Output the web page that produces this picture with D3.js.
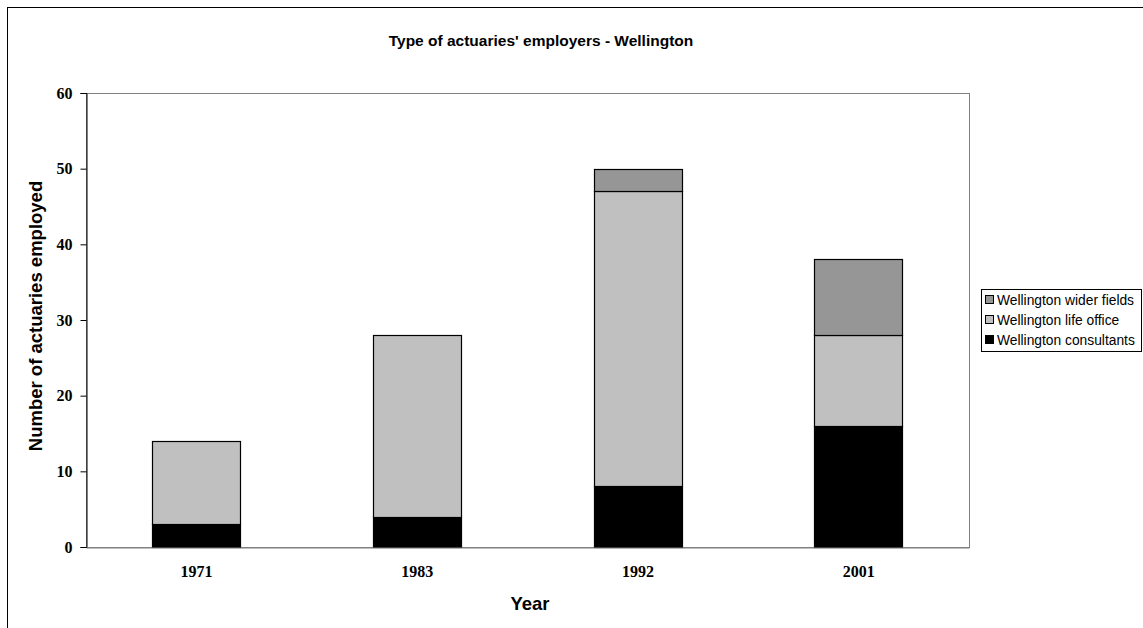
<!DOCTYPE html>
<html>
<head>
<meta charset="utf-8">
<script src="https://cdn.jsdelivr.net/npm/d3@7"></script>
<style>
  html, body { margin: 0; padding: 0; background: #fff; }
  svg { display: block; }
</style>
</head>
<body>
<svg id="chart" width="1143" height="628"></svg>
<script>
// Census years and employer breakdown for Wellington actuaries
const years = ["1971", "1983", "1992", "2001"];
const consultants = [3, 4, 8, 16];
const lifeOffice = [11, 24, 39, 12];
const widerFields = [0, 0, 3, 10];
const seriesNames = ["Wellington consultants", "Wellington life office", "Wellington wider fields"];
const seriesColors = ["#000000", "#c0c0c0", "#969696"];
const yTicks = [0, 10, 20, 30, 40, 50, 60];

const svg = d3.select("#chart");
const sans = "'Liberation Sans', Arial, sans-serif";
const serif = "'Liberation Serif', 'Times New Roman', serif";

// Outer chart frame (continues past the right and bottom edges)
svg.append("rect")
  .attr("x", 7.5).attr("y", 7.5)
  .attr("width", 1200).attr("height", 700)
  .attr("fill", "none").attr("stroke", "#000").attr("stroke-width", 1);

const plot = { left: 86, top: 93, right: 969, bottom: 547 };

const x = d3.scaleBand()
  .domain(years)
  .range([plot.left, plot.right])
  .paddingInner(0.6)
  .paddingOuter(0.3);

const y = d3.scaleLinear()
  .domain([0, 60])
  .range([plot.bottom, plot.top]);

// Plot-area frame
svg.append("rect")
  .attr("x", plot.left + 0.5).attr("y", plot.top + 0.5)
  .attr("width", plot.right - plot.left).attr("height", plot.bottom - plot.top)
  .attr("fill", "#fff").attr("stroke", "#808080").attr("stroke-width", 1);

// Stack the series
const rows = years.map((yr, i) => ({
  year: yr,
  c: consultants[i],
  l: lifeOffice[i],
  w: widerFields[i]
}));
const layers = d3.stack().keys(["c", "l", "w"])(rows);

const g = svg.append("g");
layers.forEach((layer, k) => {
  g.selectAll(null)
    .data(layer.filter(d => d[1] - d[0] > 0))
    .enter().append("rect")
    .attr("x", d => Math.round(x(d.data.year)) + 0.5)
    .attr("y", d => Math.round(y(d[1])) + 0.5)
    .attr("width", Math.round(x.bandwidth()))
    .attr("height", d => Math.round(y(d[0])) - Math.round(y(d[1])))
    .attr("fill", seriesColors[k])
    .attr("stroke", "#000")
    .attr("stroke-width", 1.2);
});

// Y axis
const yAxis = d3.axisLeft(y).tickValues(yTicks).tickSize(6).tickPadding(8);
const ya = svg.append("g")
  .attr("transform", `translate(${plot.left + 0.5},0)`)
  .call(yAxis);
ya.select(".domain").attr("stroke", "#000");
ya.selectAll(".tick line").attr("stroke", "#000");
ya.selectAll(".tick text")
  .attr("font-family", serif)
  .attr("font-weight", "bold").attr("font-size", 16).attr("fill", "#000");

// X axis
const xAxis = d3.axisBottom(x).tickSize(0).tickPadding(18);
const xa = svg.append("g")
  .attr("transform", `translate(0,${plot.bottom + 0.5})`)
  .call(xAxis);
xa.select(".domain").attr("stroke", "#808080");
xa.selectAll(".tick text")
  .attr("font-family", serif)
  .attr("font-weight", "bold").attr("font-size", 16).attr("fill", "#000");

// Titles
svg.append("text")
  .attr("x", 541).attr("y", 46)
  .attr("text-anchor", "middle")
  .attr("font-family", sans)
  .attr("font-weight", "bold").attr("font-size", 15.5)
  .text("Type of actuaries' employers - Wellington");

svg.append("text")
  .attr("x", 530).attr("y", 610)
  .attr("text-anchor", "middle")
  .attr("font-family", sans)
  .attr("font-weight", "bold").attr("font-size", 18.5)
  .text("Year");

svg.append("text")
  .attr("transform", `translate(42,${(plot.top + plot.bottom) / 2 - 4}) rotate(-90)`)
  .attr("text-anchor", "middle")
  .attr("font-family", sans)
  .attr("font-weight", "bold").attr("font-size", 18.5)
  .text("Number of actuaries employed");

// Legend (top entry is the top of the stack)
const legend = svg.append("g").attr("transform", "translate(981,289)");
legend.append("rect")
  .attr("x", 0.5).attr("y", 0.5).attr("width", 160).attr("height", 62)
  .attr("fill", "#fff").attr("stroke", "#000");
const legendOrder = [2, 1, 0];
legendOrder.forEach((k, i) => {
  const ly = 11 + i * 20;
  legend.append("rect")
    .attr("x", 4.5).attr("y", ly - 4.5).attr("width", 8).attr("height", 8)
    .attr("fill", seriesColors[k]).attr("stroke", "#000");
  legend.append("text")
    .attr("x", 16).attr("y", ly + 5)
    .attr("font-family", sans)
    .attr("font-size", 13.8)
    .text(seriesNames[k]);
});
</script>
</body>
</html>
